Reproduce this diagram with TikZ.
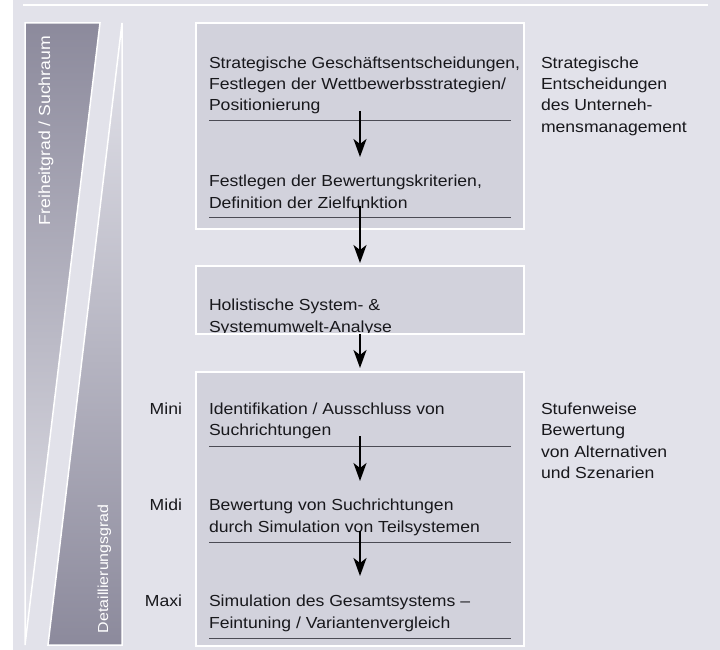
\documentclass[tikz,border=0pt]{standalone}
\usepackage{fontspec}
\setmainfont{Liberation Sans}[FakeStretch=1.1]
\usetikzlibrary{arrows.meta}
\definecolor{bg}{RGB}{226,226,234}
\definecolor{boxfill}{RGB}{210,210,220}
\definecolor{darkband}{RGB}{140,138,156}
\definecolor{txt}{RGB}{24,24,28}
\definecolor{ulinec}{RGB}{75,75,84}
\begin{document}
\begin{tikzpicture}[x=1pt,y=-1pt,
  every node/.style={inner sep=0pt, outer sep=0pt},
  body/.style={font=\fontsize{16}{21.5}\selectfont, text=txt, anchor=base west, align=left},
  lvl/.style={font=\fontsize{16}{21.5}\selectfont, text=txt, anchor=base east},
  vlabel/.style={font=\fontsize{16}{20}\selectfont, text=white, rotate=90, anchor=base west},
  stagebox/.style={fill=boxfill, draw=white, line width=2pt},
  uline/.style={draw=ulinec, line width=1pt},
  flowarrow/.style={draw=black, line width=2pt, -{Stealth[length=18pt,width=13pt,inset=5pt]}},
  bandedge/.style={draw=white, line width=1.5pt, line join=miter}]
\useasboundingbox (0,0) rectangle (720,650);
% background
\fill[bg] (13,0) rectangle (720,650);
\draw[white, line width=2pt] (23,5) -- (708,5);
% left band
\shade[top color=darkband, bottom color=bg!80!white] (25,23) -- (100,23) -- (25,645) -- cycle;
\shade[top color=bg!90!white, bottom color=darkband] (122,23) -- (122,645) -- (48,645) -- cycle;
\draw[bandedge] (25,645) -- (25,23) -- (100,23) -- (25,645);
\draw[bandedge] (48,645) -- (122,23) -- (122,645) -- cycle;
\node[vlabel] (vfrei) at (50,225) {Freiheitgrad / Suchraum};
\node[vlabel, font=\fontsize{14.5}{18}\selectfont] (vdetail) at (108,633) {Detaillierungsgrad};
% boxes
\path[stagebox] (196,23) rectangle (524,229);
\path[stagebox] (196,266) rectangle (524,334);
\path[stagebox] (196,372) rectangle (524,646);
\coordinate (b2nw) at (196,266);
\coordinate (b2se) at (524,334);
% texts (anchor = baseline of the last line)
\node[body] (t1) at (209,111) {Strategische Geschäftsentscheidungen,\\Festlegen der Wettbewerbsstrategien/\\Positionierung};
\node[body] (t2) at (209,208) {Festlegen der Bewertungskriterien,\\Definition der Zielfunktion};
\begin{scope}
\clip (b2nw) rectangle (b2se);
\node[body] (t3) at (209,332) {Holistische System- \&\\Systemumwelt-Analyse};
\end{scope}
\draw[white, line width=2pt] (196,334) -- (524,334);
\node[body] (t4) at (209,435.5) {Identifikation / Ausschluss von\\Suchrichtungen};
\node[body] (t5) at (209,532) {Bewertung von Suchrichtungen\\durch Simulation von Teilsystemen};
\node[body] (t6) at (209,628) {Simulation des Gesamtsystems –\\Feintuning / Variantenvergleich};
\node[body] (r1) at (541,132.5) {Strategische\\Entscheidungen\\des Unterneh-\\mensmanagement};
\node[body] (r2) at (541,478.5) {Stufenweise\\Bewertung\\von Alternativen\\und Szenarien};
\node[lvl] (mini) at (182,414) {Mini};
\node[lvl] (midi) at (182,510.5) {Midi};
\node[lvl] (maxi) at (182,606.5) {Maxi};
% underlines
\foreach \yy/\nm in {121/u1,217/u2,446/u3,542/u4,638/u5}{
  \coordinate (\nm a) at (209,\yy);
  \coordinate (\nm b) at (511,\yy);
  \draw[uline] (\nm a) -- (\nm b);
}
% arrows
\coordinate (a1s) at (360,111); \coordinate (a1e) at (360,157);
\coordinate (a2s) at (360,206); \coordinate (a2e) at (360,263);
\coordinate (a3s) at (360,334); \coordinate (a3e) at (360,368);
\coordinate (a4s) at (360,436); \coordinate (a4e) at (360,481);
\coordinate (a5s) at (360,531); \coordinate (a5e) at (360,576);
\draw[flowarrow] (a1s) -- (a1e);
\draw[flowarrow] (a2s) -- (a2e);
\draw[flowarrow] (a3s) -- (a3e);
\draw[flowarrow] (a4s) -- (a4e);
\draw[flowarrow] (a5s) -- (a5e);
\end{tikzpicture}
\end{document}
